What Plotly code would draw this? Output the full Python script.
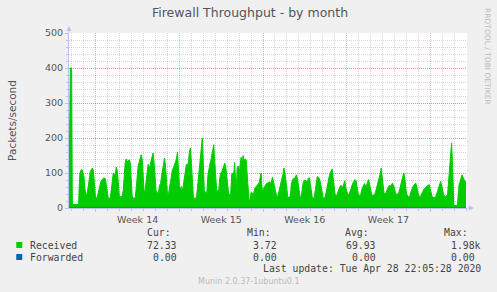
import pandas as pd
import plotly.graph_objects as go

# ---- data ----
start_time = "2020-03-27 18:00"
end_time = "2020-04-30 02:00"
hours = [0, 0.7, 2.7, 5.3, 6.7, 19.3,
         20.7, 22, 24, 26, 28, 30, 32, 33.5, 35, 37,
         39, 41, 43, 45, 47, 49, 51, 53, 55, 57,
         59, 61, 64, 67, 70, 73, 75, 77, 79, 83,
         85, 87, 89, 91, 93, 95, 97, 99, 101, 103, 107, 109,
         111, 113, 115, 117, 119, 121, 123, 125, 127, 129, 133,
         135, 137, 139, 141, 143, 145, 147, 149, 151,
         153, 155, 157, 159, 161, 163, 165, 167, 169, 171, 173, 175, 177, 180,
         182, 184, 186, 188, 190, 192, 194, 196, 198, 200,
         202, 204, 206, 208, 210, 212, 214, 216, 218, 220, 222, 224, 226, 228,
         230, 232, 234, 236, 238, 240, 242, 244, 246, 248, 250, 252, 256,
         258, 260, 262, 264, 266, 268, 270, 272, 274, 277,
         279, 281, 283, 285, 287, 289, 291, 293, 295, 297, 299, 301,
         303, 305, 307, 309, 311, 313, 315, 317, 319, 321, 323, 325,
         327, 329, 331, 333, 335, 336.5, 338, 340, 342, 344, 346, 348, 350, 352, 354, 356, 358, 360, 362, 364,
         366, 369, 371,
         373, 376, 379, 382, 384, 386, 388, 389.5,
         391, 394, 397, 400, 403, 406, 409, 411, 414, 416, 418, 420,
         422, 424, 426, 428, 430, 432, 434, 436, 438, 440, 442, 445,
         447, 449, 451, 453, 455, 457, 459, 461, 463, 465, 467,
         469, 471, 474, 477, 479, 481, 483, 485, 487, 489, 491, 493,
         495, 497, 499, 501, 503, 505, 507, 509, 511, 513, 515,
         517, 519, 521, 523, 525, 527, 529, 531, 533, 535, 538,
         541, 543, 545, 547, 549, 551, 553, 554.5, 556, 558, 560, 563,
         565, 567, 569, 571, 573, 575, 577, 579, 581, 583, 586,
         588, 590, 592, 594, 596, 598, 600, 602, 604, 606, 608, 611, 614,
         616, 618, 620, 622, 624, 626, 627.5, 629, 631, 633, 635, 638,
         640, 642, 644, 646, 648, 650, 652, 654, 656, 658, 661,
         663, 665, 667, 669, 671, 673, 675, 677, 679, 682, 685,
         687, 689, 691, 693, 695, 697, 699, 701, 703, 706,
         708, 710, 712, 714, 716, 718, 720, 722, 724, 726, 728, 730, 734, 737,
         739, 741, 743, 745, 747, 749, 751, 753, 756, 759,
         761, 763, 765, 767, 769, 771, 772.5, 773.5, 780.7,
         782, 784, 786, 788, 790, 792, 794, 796, 798]
received = [138, 138, 400, 400, 10, 10,
            70, 100, 108, 110, 102, 90, 55, 33, 32, 45,
            70, 90, 105, 110, 114, 108, 70, 35, 28, 30,
            45, 62, 75, 82, 86, 84, 65, 35, 28, 28,
            60, 85, 100, 98, 95, 117, 108, 75, 35, 32, 33, 50,
            90, 130, 140, 132, 135, 138, 130, 90, 35, 28, 28,
            55, 90, 120, 130, 145, 152, 140, 100, 47,
            50, 80, 110, 125, 120, 118, 135, 145, 157, 130, 85, 50, 43, 45,
            65, 70, 90, 110, 125, 143, 120, 80, 38, 40,
            60, 80, 90, 110, 115, 122, 128, 140, 160, 120, 60, 55, 62, 48,
            70, 95, 115, 125, 122, 130, 160, 171, 130, 70, 31, 28, 28,
            55, 85, 115, 135, 160, 200, 125, 50, 45, 43,
            90, 115, 125, 135, 150, 165, 181, 130, 70, 48, 50, 52,
            85, 100, 103, 110, 118, 128, 118, 95, 60, 40, 38, 40,
            95, 100, 95, 130, 70, 60, 115, 120, 100, 130, 145, 130, 150, 135, 140, 138, 90, 45, 19, 25,
            45, 42, 40,
            55, 60, 68, 72, 85, 100, 60, 38,
            55, 65, 70, 72, 75, 70, 88, 75, 55, 35, 30, 35,
            50, 65, 80, 85, 95, 114, 100, 70, 40, 30, 30, 35,
            70, 80, 85, 82, 90, 95, 85, 65, 35, 28, 35,
            60, 75, 80, 78, 75, 85, 86, 70, 50, 30, 28, 32,
            50, 80, 90, 88, 85, 75, 55, 35, 28, 28, 32,
            45, 65, 80, 90, 100, 105, 111, 85, 55, 38, 35,
            50, 55, 62, 65, 55, 62, 70, 78, 60, 48, 40, 38,
            50, 60, 65, 72, 75, 81, 78, 55, 42, 35, 35,
            50, 60, 65, 70, 62, 65, 72, 81, 70, 55, 40, 35, 38,
            45, 55, 70, 78, 90, 100, 114, 90, 60, 45, 41, 45,
            55, 60, 65, 62, 68, 71, 65, 58, 45, 38, 40,
            45, 55, 70, 80, 90, 100, 85, 55, 38, 32, 33,
            45, 55, 60, 65, 68, 71, 60, 45, 35, 32,
            38, 45, 50, 55, 58, 60, 62, 65, 67, 55, 40, 32, 29, 32,
            40, 50, 58, 65, 76, 65, 50, 38, 32, 35,
            40, 80, 130, 175, 186, 120, 30, 7, 7,
            40, 65, 75, 85, 95, 88, 80, 75, 78]
forwarded = [0] * len(hours)

y_ticks = [0, 100, 200, 300, 400, 500]
legend_names = ["Received", "Forwarded"]
legend_colors = ["#00CC00", "#0066B3"]
col_headers = ["Cur:", "Min:", "Avg:", "Max:"]
received_stats = ["72.33", "3.72", "69.93", "1.98k"]
forwarded_stats = ["0.00", "0.00", "0.00", "0.00"]
last_update = "Last update: Tue Apr 28 22:05:28 2020"

times = pd.to_datetime(start_time) + pd.to_timedelta(hours, unit="h")

# ---- geometry helpers (pixel -> paper) ----
L, R, T, B = 67, 467, 33, 208
W, H = 497, 292
def px(x):
    return (x - L) / (R - L)
def py(y):
    return (B - y) / (B - T)

fig = go.Figure()
fig.add_trace(go.Scatter(x=times, y=received, mode="lines", fill="tozeroy",
                         line=dict(color=legend_colors[0], width=1),
                         fillcolor=legend_colors[0], name=legend_names[0], showlegend=False))
fig.add_trace(go.Scatter(x=times, y=forwarded, mode="lines",
                         line=dict(color=legend_colors[1], width=1),
                         name=legend_names[1], showlegend=False))

major_grid = "rgba(255,0,0,0.30)"
minor_grid = "rgba(150,150,150,0.40)"
axis_col = "#B8C4F0"
tick_font = dict(family="DejaVu Sans", size=9.5, color="#555555")

fig.update_xaxes(
    type="date", range=[start_time, end_time],
    tick0="2020-03-30", dtick=7 * 24 * 3600 * 1000,
    ticklabelmode="period", tickformat="Week %V",
    showgrid=True, gridcolor=major_grid, griddash="1px,1px", gridwidth=1,
    minor=dict(dtick=24 * 3600 * 1000, tick0="2020-03-30", showgrid=True,
               gridcolor=minor_grid, griddash="1px,1px", ticks="outside",
               ticklen=2, tickcolor=axis_col),
    ticks="outside", ticklen=3, tickcolor=axis_col,
    showline=True, linecolor=axis_col, linewidth=1,
    tickfont=tick_font, zeroline=False, fixedrange=True,
)
fig.update_yaxes(
    range=[0, 500], tickvals=y_ticks,
    showgrid=True, gridcolor=major_grid, griddash="1px,1px", gridwidth=1,
    minor=dict(dtick=20, showgrid=True, gridcolor=minor_grid, griddash="1px,1px",
               ticks="outside", ticklen=2, tickcolor=axis_col),
    ticks="outside", ticklen=3, tickcolor=axis_col,
    showline=True, linecolor=axis_col, linewidth=1,
    tickfont=tick_font, zeroline=False, fixedrange=True,
    title=dict(text="Packets/second", font=dict(family="DejaVu Sans", size=10.5, color="#555555"),
               standoff=26),
)

ann = []
mono = "DejaVu Sans Mono"
txt_col = "#444444"
# title
ann.append(dict(text="Firewall Throughput - by month", x=px(248.5), y=py(13), xref="paper", yref="paper",
                xanchor="center", yanchor="middle", showarrow=False,
                font=dict(family="DejaVu Sans", size=12.5, color="#555555")))
# rrdtool credit
ann.append(dict(text="RRDTOOL / TOBI OETIKER", x=px(488), y=py(57), xref="paper", yref="paper",
                xanchor="center", yanchor="middle", textangle=90, showarrow=False,
                font=dict(family="DejaVu Sans", size=7.5, color="#BBBBBB")))
# legend
col_right = [172, 272, 371, 470]
val_right = [178, 278, 378, 483]
for h_txt, xr in zip(col_headers, col_right):
    ann.append(dict(text=h_txt, x=px(xr), y=py(232), xref="paper", yref="paper", xanchor="right",
                    yanchor="middle", showarrow=False, font=dict(family=mono, size=9.8, color=txt_col)))
rows = [(245, received_stats), (257, forwarded_stats)]
shapes = []
for (yrow, stats), name, col in zip(rows, legend_names, legend_colors):
    shapes.append(dict(type="rect", xref="paper", yref="paper", x0=px(14), x1=px(20),
                       y0=py(yrow - 3), y1=py(yrow + 3), fillcolor=col, line=dict(width=0)))
    ann.append(dict(text=name, x=px(26), y=py(yrow), xref="paper", yref="paper", xanchor="left",
                    yanchor="middle", showarrow=False, font=dict(family=mono, size=9.8, color=txt_col)))
    for s, xr in zip(stats, val_right):
        xr2 = xr if s != "0.00" or xr != 483 else 477
        ann.append(dict(text=s, x=px(xr2), y=py(yrow), xref="paper", yref="paper", xanchor="right",
                        yanchor="middle", showarrow=False, font=dict(family=mono, size=9.8, color=txt_col)))
ann.append(dict(text=last_update, x=px(483), y=py(268.5), xref="paper", yref="paper", xanchor="right",
                yanchor="middle", showarrow=False, font=dict(family=mono, size=9.8, color=txt_col)))
ann.append(dict(text="Munin 2.0.37-1ubuntu0.1", x=px(248), y=py(281), xref="paper", yref="paper",
                xanchor="center", yanchor="middle", showarrow=False,
                font=dict(family="DejaVu Sans", size=8, color="#BBBBBB")))
# axis arrows
ann.append(dict(text="", x=px(67), y=py(26), xref="paper", yref="paper", showarrow=True,
                ax=0, ay=8, arrowhead=2, arrowsize=1, arrowwidth=1, arrowcolor=axis_col))
ann.append(dict(text="", x=px(474), y=py(208), xref="paper", yref="paper", showarrow=True,
                ax=-8, ay=0, arrowhead=2, arrowsize=1, arrowwidth=1, arrowcolor=axis_col))

fig.update_layout(
    width=W, height=H,
    margin=dict(l=L, r=W - R, t=T, b=H - B, pad=0),
    paper_bgcolor="#F0F0F0", plot_bgcolor="#FFFFFF",
    annotations=ann, shapes=shapes, showlegend=False,
)
fig.write_html("out.html")
